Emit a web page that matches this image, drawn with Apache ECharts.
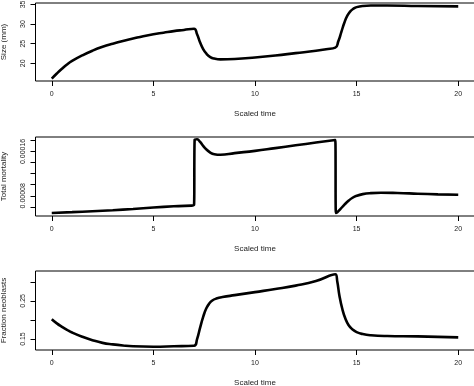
<!DOCTYPE html>
<html>
<head>
<meta charset="utf-8">
<script src="https://cdn.jsdelivr.net/npm/echarts@6/dist/echarts.min.js"></script>
<style>
html,body{margin:0;padding:0;background:#fff;}
#chart{width:474px;height:386px;}
</style>
</head>
<body>
<div id="chart"></div>
<script>
// ---- data ----
var xTicks = [0, 5, 10, 15, 20];

var sizeTime   = [0, 0.25, 0.5, 0.75, 1, 1.5, 2, 2.5, 3, 3.5, 4, 4.5, 5, 5.5, 6, 6.5, 7.0,
                  7.15, 7.3, 7.45, 7.6, 7.8, 8.0, 8.3, 9, 10, 11, 12, 13, 13.5, 13.95,
                  14.1, 14.25, 14.4, 14.55, 14.7, 14.85, 15.0, 15.3, 15.7, 16.5, 18, 20];
var sizeValues = [16.1, 17.4, 18.6, 19.7, 20.6, 22.0, 23.2, 24.2, 25.0, 25.7, 26.3, 26.9, 27.4, 27.8, 28.2, 28.5, 28.8,
                  27.4, 25.3, 23.6, 22.5, 21.6, 21.2, 21.0, 21.1, 21.5, 22.0, 22.6, 23.2, 23.6, 24.0,
                  25.6, 28.0, 30.4, 32.2, 33.3, 33.9, 34.3, 34.6, 34.7, 34.7, 34.6, 34.5];

var mortTime   = [0, 1, 2, 3, 4, 5, 6, 7.0, 7.03, 7.15, 7.3, 7.45, 7.6, 7.8, 8.0, 8.3, 9, 10, 11, 12, 13, 13.95,
                  13.98, 14.05, 14.2, 14.4, 14.6, 14.8, 15.0, 15.3, 15.7, 16.2, 17, 18, 19, 20];
var mortValues = [0.0000491, 0.0000505, 0.0000522, 0.0000540, 0.0000562, 0.0000588, 0.0000612, 0.0000636,
                  0.000181, 0.000182, 0.000177, 0.000170, 0.000164, 0.000158, 0.000155, 0.000154,
                  0.000157, 0.000161, 0.000166, 0.000171, 0.000176, 0.0001805,
                  0.0000491, 0.0000505, 0.0000560, 0.0000640, 0.0000710, 0.0000765, 0.0000800, 0.0000830,
                  0.0000848, 0.0000855, 0.0000850, 0.0000838, 0.0000826, 0.0000818];

var fracTime   = [0, 0.25, 0.5, 0.75, 1, 1.5, 2, 2.5, 3, 3.5, 4, 5, 6, 7.0,
                  7.15, 7.3, 7.45, 7.6, 7.75, 7.9, 8.1, 8.4, 9, 10, 11, 12, 13, 13.95,
                  14.05, 14.15, 14.3, 14.45, 14.6, 14.8, 15.0, 15.3, 15.7, 16.5, 18, 20];
var fracValues = [0.202, 0.191, 0.182, 0.174, 0.167, 0.156, 0.147, 0.140, 0.136, 0.133, 0.131, 0.130, 0.131, 0.1326,
                  0.150, 0.180, 0.208, 0.230, 0.243, 0.251, 0.256, 0.260, 0.265, 0.273, 0.281, 0.290, 0.302, 0.3196,
                  0.300, 0.265, 0.228, 0.203, 0.187, 0.175, 0.168, 0.163, 0.160, 0.158, 0.157, 0.1543];

var sizeTicks = [20, 25, 30, 35];
var mortTicks = [0.00006, 0.00008, 0.00010, 0.00012, 0.00014, 0.00016, 0.00018];
var mortLabels = [0.00008, 0.00016];
var fracTicks = [0.15, 0.20, 0.25, 0.30];
var fracLabels = [0.15, 0.25];

// ---- helpers ----
function pairs(xs, ys) { return xs.map(function (x, i) { return [x, ys[i]]; }); }
var FONT = '"Liberation Sans", Arial, Helvetica, sans-serif';
var TXT = '#222';

function xAxisFor(idx) {
  return {
    gridIndex: idx, type: 'value', min: -0.8, max: 20.8, position: 'bottom',
    name: 'Scaled time', nameLocation: 'middle', nameGap: 29,
    nameTextStyle: { fontFamily: FONT, fontSize: 8, color: TXT },
    axisLine: { show: false, onZero: false },
    axisTick: { show: true, inside: false, length: 5, lineStyle: { color: '#000', width: 1 }, customValues: xTicks },
    axisLabel: { show: true, fontFamily: FONT, fontSize: 7, color: TXT, margin: 10, customValues: xTicks },
    splitLine: { show: false }
  };
}
function yAxisFor(idx, name, min, max, ticks, labels, fmt) {
  return {
    gridIndex: idx, type: 'value', min: min, max: max, position: 'left',
    name: name, nameLocation: 'middle', nameGap: 28, nameRotate: 90,
    nameTextStyle: { fontFamily: FONT, fontSize: 8, color: TXT },
    axisLine: { show: false, onZero: false },
    axisTick: { show: true, inside: false, length: 5, lineStyle: { color: '#000', width: 1 }, customValues: ticks },
    axisLabel: { show: true, rotate: 90, fontFamily: FONT, fontSize: 7, color: TXT, margin: 9,
                 customValues: labels, formatter: fmt },
    splitLine: { show: false }
  };
}
function gridAt(top, height) {
  return { left: 35.5, top: top, width: 439, height: height, show: true,
           containLabel: false, outerBoundsMode: 'none',
           borderColor: '#000', borderWidth: 1, backgroundColor: 'transparent' };
}
function lineSeries(idx, data) {
  return { type: 'line', xAxisIndex: idx, yAxisIndex: idx, data: data, showSymbol: false,
           smooth: 0.5,
           lineStyle: { color: '#000', width: 2.6 }, animation: false };
}

var chart = echarts.init(document.getElementById('chart'), null, { renderer: 'canvas' });
chart.setOption({
  animation: false,
  backgroundColor: '#fff',
  grid: [gridAt(3, 78), gridAt(137, 79), gridAt(271, 79)],
  xAxis: [xAxisFor(0), xAxisFor(1), xAxisFor(2)],
  yAxis: [
    yAxisFor(0, 'Size (mm)', 15.5, 35.35, sizeTicks, sizeTicks, function (v) { return String(Math.round(v)); }),
    yAxisFor(1, 'Total mortality', 0.0000436, 0.000186, mortTicks, mortLabels, function (v) { return v.toFixed(5); }),
    yAxisFor(2, 'Fraction neoblasts', 0.1213, 0.3283, fracTicks, fracLabels, function (v) { return v.toFixed(2); })
  ],
  series: [
    lineSeries(0, pairs(sizeTime, sizeValues)),
    lineSeries(1, pairs(mortTime, mortValues)),
    lineSeries(2, pairs(fracTime, fracValues))
  ]
});
</script>
</body>
</html>
